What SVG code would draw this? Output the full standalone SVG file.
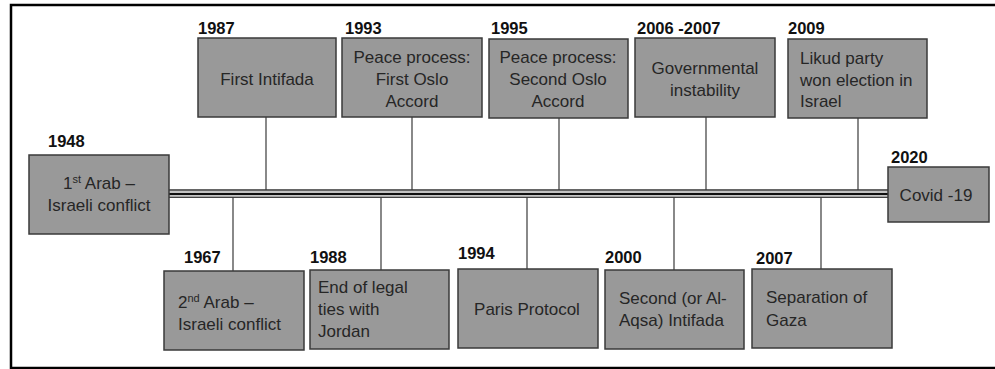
<svg xmlns="http://www.w3.org/2000/svg" width="995" height="369" viewBox="0 0 995 369">
<style>
.box{fill:#999999;stroke:#3a3a3a;stroke-width:1.5}
.t{font-family:"Liberation Sans",Arial,sans-serif;font-size:17px;fill:#262626}
.c{text-anchor:middle}
.y{font-family:"Liberation Sans",Arial,sans-serif;font-size:16.5px;font-weight:bold;fill:#111}
.con line{stroke:#3a3a3a;stroke-width:1.2}
.sup{font-size:11px}
</style>
<rect x="0" y="0" width="995" height="369" fill="#fff"/>
<rect x="11" y="5" width="995" height="363" fill="none" stroke="#000" stroke-width="2.5"/>
<g id="timeline">
<rect x="168" y="189" width="721" height="9" fill="#c4c4c4"/>
<line x1="168" y1="190" x2="889" y2="190" stroke="#666" stroke-width="2"/>
<line x1="168" y1="194" x2="889" y2="194" stroke="#111" stroke-width="2.2"/>
<line x1="168" y1="197.3" x2="889" y2="197.3" stroke="#444" stroke-width="1.2"/>
</g>
<g id="connectors" class="con">
<line x1="266" y1="117" x2="266" y2="190"/>
<line x1="412" y1="117" x2="412" y2="190"/>
<line x1="559" y1="118" x2="559" y2="190"/>
<line x1="706" y1="117" x2="706" y2="190"/>
<line x1="858" y1="118" x2="858" y2="190"/>
<line x1="233" y1="197" x2="233" y2="271"/>
<line x1="381" y1="197" x2="381" y2="270"/>
<line x1="527" y1="197" x2="527" y2="269"/>
<line x1="674" y1="197" x2="674" y2="270"/>
<line x1="821" y1="197" x2="821" y2="269"/>
</g>
<g id="n1948">
<text class="y" x="48" y="147">1948</text>
<rect class="box" x="29" y="155" width="140" height="79"/>
<text class="t c" x="99" y="189">1<tspan class="sup" dy="-6">st</tspan><tspan dy="6"> Arab –</tspan></text>
<text class="t c" x="99" y="211">Israeli conflict</text>
</g>
<g id="n1987">
<text class="y" x="198" y="34">1987</text>
<rect class="box" x="198" y="38" width="138" height="79"/>
<text class="t c" x="267" y="85">First Intifada</text>
</g>
<g id="n1993">
<text class="y" x="345" y="34">1993</text>
<rect class="box" x="342" y="38" width="140" height="79"/>
<text class="t c" x="412" y="63">Peace process:</text>
<text class="t c" x="412" y="85">First Oslo</text>
<text class="t c" x="412" y="107">Accord</text>
</g>
<g id="n1995">
<text class="y" x="491" y="34">1995</text>
<rect class="box" x="489" y="39" width="139" height="79"/>
<text class="t c" x="558" y="63">Peace process:</text>
<text class="t c" x="558" y="85">Second Oslo</text>
<text class="t c" x="558" y="107">Accord</text>
</g>
<g id="n2006">
<text class="y" x="637" y="34">2006 -2007</text>
<rect class="box" x="635" y="38" width="140" height="79"/>
<text class="t c" x="705" y="74">Governmental</text>
<text class="t c" x="705" y="96">instability</text>
</g>
<g id="n2009">
<text class="y" x="788" y="34">2009</text>
<rect class="box" x="788" y="39" width="139" height="79"/>
<text class="t" x="800" y="64">Likud party</text>
<text class="t" x="800" y="86">won election in</text>
<text class="t" x="800" y="107">Israel</text>
</g>
<g id="n2020">
<text class="y" x="891" y="163">2020</text>
<rect class="box" x="888" y="167" width="101" height="55"/>
<text class="t c" x="936" y="201">Covid -19</text>
</g>
<g id="n1967">
<text class="y" x="184" y="263">1967</text>
<rect class="box" x="164" y="271" width="140" height="79"/>
<text class="t" x="178" y="308">2<tspan class="sup" dy="-6">nd</tspan><tspan dy="6"> Arab –</tspan></text>
<text class="t" x="178" y="330">Israeli conflict</text>
</g>
<g id="n1988">
<text class="y" x="310" y="263">1988</text>
<rect class="box" x="310" y="270" width="139" height="79"/>
<text class="t" x="318" y="293">End of legal</text>
<text class="t" x="318" y="315">ties with</text>
<text class="t" x="318" y="337">Jordan</text>
</g>
<g id="n1994">
<text class="y" x="458" y="259">1994</text>
<rect class="box" x="458" y="269" width="140" height="79"/>
<text class="t c" x="527" y="315">Paris Protocol</text>
</g>
<g id="n2000">
<text class="y" x="605" y="263">2000</text>
<rect class="box" x="605" y="270" width="139" height="79"/>
<text class="t" x="619" y="304">Second (or Al-</text>
<text class="t" x="619" y="326">Aqsa) Intifada</text>
</g>
<g id="n2007">
<text class="y" x="756" y="264">2007</text>
<rect class="box" x="752" y="269" width="140" height="79"/>
<text class="t" x="766" y="303">Separation of</text>
<text class="t" x="766" y="326">Gaza</text>
</g>
</svg>
